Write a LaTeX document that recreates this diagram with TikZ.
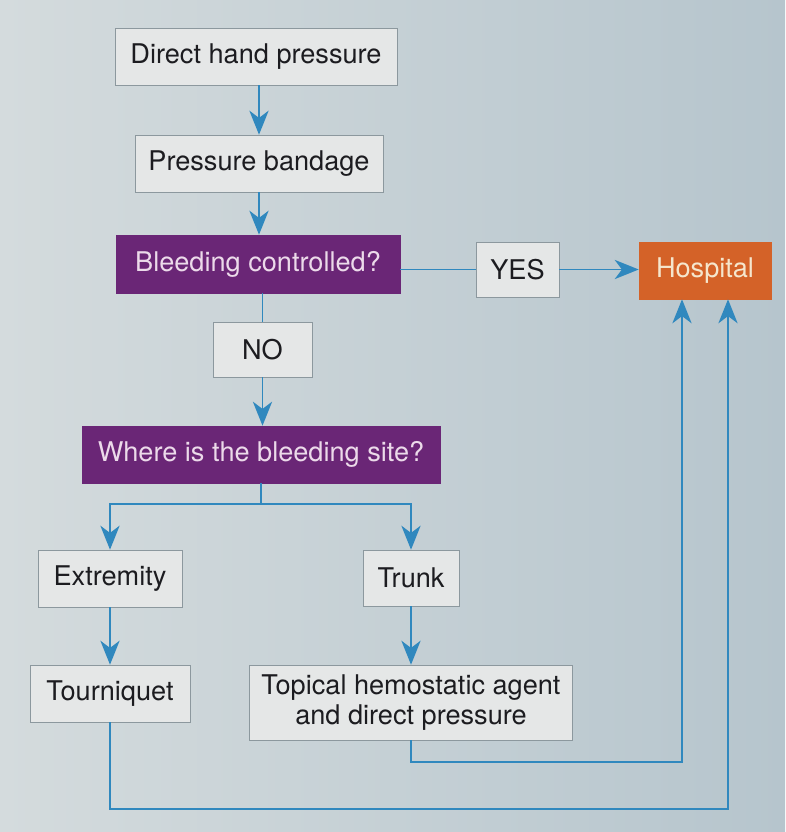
\documentclass[tikz,border=0pt]{standalone}
\usepackage{fontspec}
\setmainfont{TeX Gyre Heros}
\usetikzlibrary{arrows.meta}

\definecolor{bgleft}{RGB}{212,219,221}
\definecolor{bgright}{RGB}{182,197,205}
\definecolor{boxfill}{RGB}{229,231,231}
\definecolor{boxline}{RGB}{140,152,158}
\definecolor{askpurple}{RGB}{106,38,118}
\definecolor{asktext}{RGB}{236,218,234}
\definecolor{hosporange}{RGB}{212,98,40}
\definecolor{hosptext}{RGB}{245,230,205}
\definecolor{flowblue}{RGB}{48,136,190}
\definecolor{inkgray}{RGB}{28,28,32}

\tikzset{
  box/.style={draw=boxline, fill=boxfill, text=inkgray, minimum height=14.25mm,
    inner sep=0pt, align=center, font=\fontsize{19.3}{21.5}\selectfont},
  ask/.style={box, draw=askpurple, fill=askpurple, text=asktext},
  goal/.style={box, draw=hosporange, fill=hosporange, text=hosptext},
  flow/.style={draw=flowblue, line width=1.4pt},
  arr/.style={flow, -{Stealth[length=6mm,width=4.8mm,inset=1.8mm]}},
}

\begin{document}
\begin{tikzpicture}[x=0.25mm,y=-0.25mm]
\useasboundingbox (0,0) rectangle (785,832);
\fill[left color=bgleft, right color=bgright] (0,0) rectangle (785,832);

\node[box, minimum width=70.5mm] (direct) at (256,56.5) {Direct hand pressure};
\node[box, minimum width=62mm] (bandage) at (259,163.5) {Pressure bandage};
\node[ask, minimum width=71mm, minimum height=14.5mm] (bleeding) at (258,264) {Bleeding controlled?};
\node[box, minimum width=20.75mm, minimum height=13.75mm] (yes) at (517.5,269.5) {YES};
\node[goal, minimum width=33mm] (hospital) at (705,270.5) {Hospital};
\node[box, minimum width=24.75mm, minimum height=13.75mm] (no) at (262.5,349.5) {NO};
\node[ask, minimum width=89.5mm] (where) at (261,454.5) {Where is the bleeding site?};
\node[box, minimum width=36mm] (extremity) at (110,578.5) {Extremity};
\node[box, minimum width=24mm, minimum height=14mm] (trunk) at (411,578) {Trunk};
\node[box, minimum width=40mm] (tourniquet) at (110,693.5) {Tourniquet};
\node[box, minimum width=80.75mm, minimum height=18.75mm] (topical) at (411,702.5) {Topical hemostatic agent\\and direct pressure};

\coordinate (fork) at (261,504);
\coordinate (lowA) at (682,762);
\coordinate (lowB) at (728,809);

\draw[arr] (direct.south -| bandage.north) -- (bandage.north);
\draw[arr] (bandage.south) -- (bandage.south |- bleeding.north);
\draw[flow] (yes.west -| bleeding.east) -- (yes.west);
\draw[arr] (yes.east) -- (yes.east -| hospital.west);
\draw[flow] (bleeding.south -| no.north) -- (no.north);
\draw[arr] (no.south) -- (no.south |- where.north);
\draw[flow] (where.south) -- (fork);
\draw[arr] (fork) -| (extremity.north);
\draw[arr] (fork) -| (trunk.north);
\draw[arr] (extremity.south) -- (tourniquet.north);
\draw[arr] (trunk.south) -- (topical.north);
\draw[arr] (topical.south) |- (lowA) -- (lowA |- hospital.south);
\draw[arr] (tourniquet.south) |- (lowB) -- (lowB |- hospital.south);

\end{tikzpicture}
\end{document}
